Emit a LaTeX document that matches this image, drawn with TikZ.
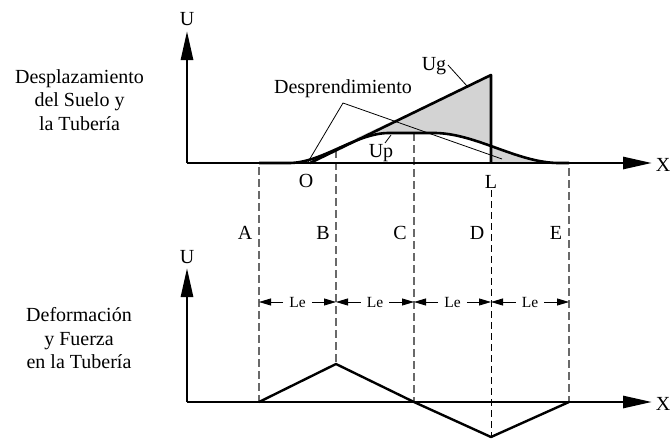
\documentclass[tikz,border=0pt]{standalone}
\usepackage{fontspec}
\setmainfont{Liberation Serif}
\usetikzlibrary{arrows.meta}
\definecolor{fillgray}{RGB}{211,211,211}
\definecolor{dashgray}{RGB}{105,105,105}
\begin{document}
\begin{tikzpicture}[x=1pt,y=-1pt,
  axis/.style={line width=2.8pt, -{Triangle[length=29pt,width=12pt]}},
  heavy/.style={line width=2.6pt, line join=round},
  dashline/.style={draw=dashgray, line width=1.2pt, dash pattern=on 8pt off 4pt},
  ddash/.style={draw=black, line width=0.9pt, dash pattern=on 7pt off 4pt},
  leader/.style={line width=0.8pt},
  lbl/.style={font=\fontsize{20}{24}\selectfont, inner sep=0pt, anchor=base},
  lelbl/.style={font=\fontsize{15.5}{18}\selectfont, inner xsep=6pt, inner ysep=0pt, anchor=base},
  dimarrow/.style={line width=0.8pt, -{Triangle[length=12pt,width=7pt]}},
  declare function={
    sst(\t)=3*\t*\t-2*\t*\t*\t;
    tlft(\x)=max(0,min(1,(125-(414-\x))/100));
    trgt(\x)=max(0,min(1,(145-(\x-414))/125));
  }
]
\useasboundingbox (0,0) rectangle (670,439);

% ---------- coordinates ----------
\coordinate (o1) at (187,163);
\coordinate (u1) at (187,31);
\coordinate (x1) at (652,163);
\coordinate (o2) at (187,402);
\coordinate (u2) at (187,268);
\coordinate (x2) at (652,402);
\coordinate (ugs) at (310,163);
\coordinate (ugt) at (491,75);
\coordinate (lb) at (491,163);

% ---------- gray area between Ug and Up ----------
\fill[fillgray] (356,138.3) -- (ugt) -- (lb) -- (569,163)
  -- plot[domain=569:414, samples=60] (\x,{163-30*sst(trgt(\x))})
  -- plot[domain=414:356, samples=40] (\x,{163-30*sst(tlft(\x))}) -- cycle;

% ---------- dashed vertical lines ----------
\draw[dashline] (259,167) -- (259,402);
\draw[dashline] (336,150) -- (336,364);
\draw[dashline] (414,133) -- (414,402);
\draw[ddash] (491,190) -- (491,437);
\draw[dashline] (569,168) -- (569,402);

% ---------- top graph curves ----------
\draw[heavy] plot[domain=259:414, samples=80] (\x,{163-30*sst(tlft(\x))})
  -- plot[domain=414:569, samples=80] (\x,{163-30*sst(trgt(\x))});
\draw[heavy] (ugs) -- (ugt) -- (lb);

% ---------- axes ----------
\draw[axis] (o1) -- (u1);
\draw[axis] (o1) -- (x1);
\draw[axis] (o2) -- (u2);
\draw[axis] (o2) -- (x2);

% ---------- bottom graph ----------
\draw[heavy, line width=2.4pt] (259,402) -- (336,364) -- (414,402) -- (491,437) -- (569,402);

% ---------- labels top ----------
\node[lbl] (uTop) at (187,25) {U};
\node[lbl] (xTop) at (663,171) {X};
\node[lbl] (oLbl) at (306,187) {O};
\node[lbl] (lLbl) at (491,188) {L};
\node[lbl] (ugLbl) at (434,70) {Ug};
\node[lbl] (upLbl) at (381,157) {Up};
\node[lbl] (desp) at (343,93) {Desprendimiento};
\coordinate (apex) at (343,103);
\coordinate (dO) at (308,162);
\coordinate (dL) at (502,159);
\draw[leader] (dO) -- (apex) -- (dL);
\coordinate (ugA) at (448,65);
\coordinate (ugB) at (467,86);
\draw[leader] (ugA) -- (ugB);
\coordinate (upA) at (385,143);
\coordinate (upB) at (391,135);
\draw[leader] (upA) -- (upB);

\node[lbl] (t1) at (79.5,83) {Desplazamiento};
\node[lbl] (t2) at (79.5,106.5) {del Suelo y};
\node[lbl] (t3) at (79.5,130) {la Tubería};

% ---------- labels bottom ----------
\node[lbl] (uBot) at (187,263) {U};
\node[lbl] (xBot) at (663,410) {X};
\node[lbl] (aL) at (245,239) {A};
\node[lbl] (bL) at (323,239) {B};
\node[lbl] (cL) at (400,239) {C};
\node[lbl] (dL2) at (477,239) {D};
\node[lbl] (eL) at (556,239) {E};

\node[lbl] (b1) at (79,321) {Deformación};
\node[lbl] (b2) at (79,345) {y Fuerza};
\node[lbl] (b3) at (79,368.5) {en la Tubería};

% ---------- Le dimensions ----------
\coordinate (dA) at (259,302);
\coordinate (dB) at (336,302);
\coordinate (dC) at (414,302);
\coordinate (dD) at (491,302);
\coordinate (dE) at (569,302);
\node[lelbl] (le1) at (297.5,307.5) {Le};
\node[lelbl] (le2) at (375,307.5) {Le};
\node[lelbl] (le3) at (452.5,307.5) {Le};
\node[lelbl] (le4) at (530,307.5) {Le};
\draw[dimarrow] (le1.west |- dA) -- (dA);
\draw[dimarrow] (le1.east |- dA) -- (dB);
\draw[dimarrow] (le2.west |- dA) -- (dB);
\draw[dimarrow] (le2.east |- dA) -- (dC);
\draw[dimarrow] (le3.west |- dA) -- (dC);
\draw[dimarrow] (le3.east |- dA) -- (dD);
\draw[dimarrow] (le4.west |- dA) -- (dD);
\draw[dimarrow] (le4.east |- dA) -- (dE);
\end{tikzpicture}
\end{document}
